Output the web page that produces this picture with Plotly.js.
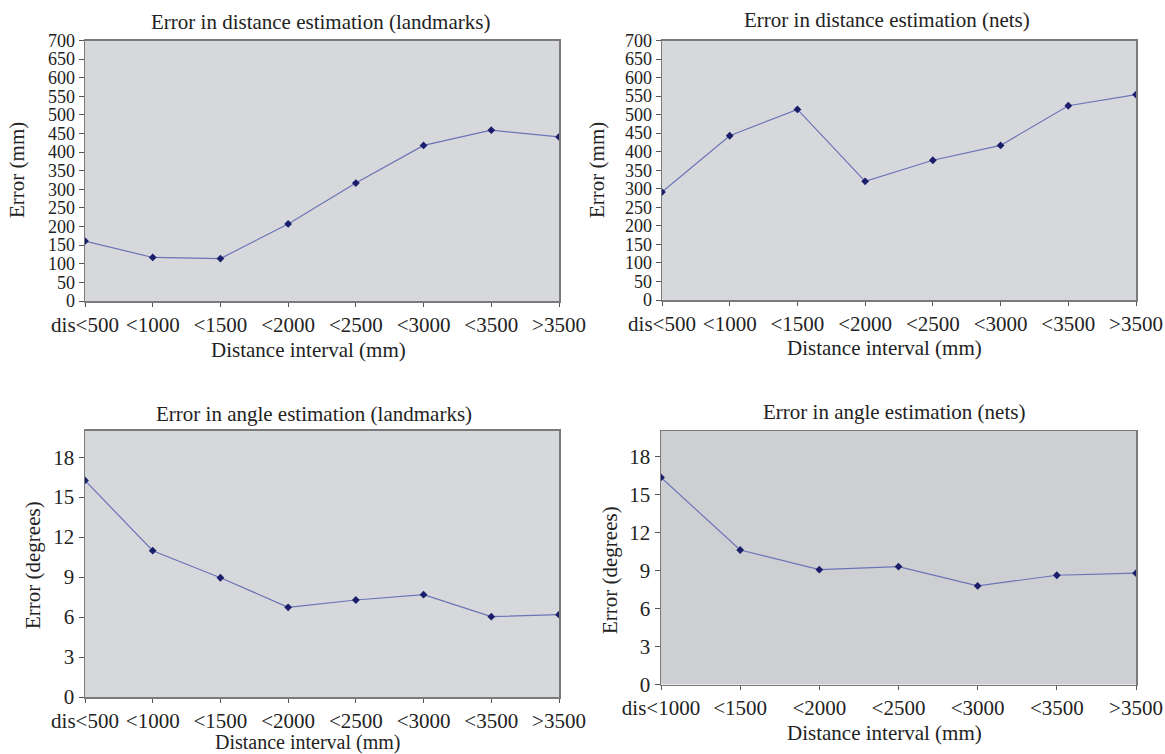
<!DOCTYPE html>
<html>
<head>
<meta charset="utf-8">
<script src="https://cdn.plot.ly/plotly-3.0.1.min.js"></script>
<style>html,body{margin:0;padding:0;background:#fff;}#chart{width:1165px;height:754px;}</style>
</head>
<body>
<div id="chart"></div>
<script>
// ---- data ----
const distCategories = ["dis<500", "<1000", "<1500", "<2000", "<2500", "<3000", "<3500", ">3500"];
const distLandmarks = [161, 117, 114, 207, 317, 418, 459, 441];
const distNets = [291, 443, 514, 320, 377, 417, 524, 554];
const angleLandmarkCategories = ["dis<500", "<1000", "<1500", "<2000", "<2500", "<3000", "<3500", ">3500"];
const angleLandmarks = [16.25, 10.98, 8.95, 6.73, 7.28, 7.68, 6.03, 6.18];
const angleNetCategories = ["dis<1000", "<1500", "<2000", "<2500", "<3000", "<3500", ">3500"];
const angleNets = [16.34, 10.61, 9.06, 9.30, 7.78, 8.62, 8.78];
const titles = ["Error in distance estimation (landmarks)", "Error in distance estimation (nets)",
                "Error in angle estimation (landmarks)", "Error in angle estimation (nets)"];
const xTitle = "Distance interval (mm)";
const yTitleDist = "Error (mm)";
const yTitleAngle = "Error (degrees)";

const W = 1165, H = 754;
const FONT = "Liberation Serif, Times New Roman, serif";
const lineColor = "#6b74b6";
const markerColor = "#1b1f6b";

function px(x){ return x / W; }
function py(y){ return 1 - y / H; }

function trace(cats, vals, xa, ya){
  return {
    x: cats, y: vals, xaxis: xa, yaxis: ya, type: "scatter", mode: "lines+markers",
    line: {color: lineColor, width: 1.2},
    marker: {symbol: "diamond", size: 6, color: markerColor},
    hoverinfo: "x+y", showlegend: false
  };
}

const data = [
  trace(distCategories, distLandmarks, "x", "y"),
  trace(distCategories, distNets, "x2", "y2"),
  trace(angleLandmarkCategories, angleLandmarks, "x3", "y3"),
  trace(angleNetCategories, angleNets, "x4", "y4")
];

function xAxis(dom, n, anchor){
  return {
    domain: dom, anchor: anchor, type: "category", range: [0, n - 1],
    showline: true, mirror: true, linecolor: "#7a7a7a", linewidth: 1.5,
    ticks: "outside", ticklen: 4, tickcolor: "#555", tickwidth: 1,
    showgrid: false, zeroline: false,
    tickfont: {family: FONT, size: 21, color: "#222"}, automargin: false
  };
}
function yAxis(dom, range, dtick, anchor, fs){
  return {
    domain: dom, anchor: anchor, range: range, dtick: dtick, tick0: 0,
    showline: true, mirror: true, linecolor: "#7a7a7a", linewidth: 1.5,
    ticks: "outside", ticklen: 5, tickcolor: "#555", tickwidth: 1,
    showgrid: false, zeroline: false,
    tickfont: {family: FONT, size: fs, color: "#222"}, automargin: false
  };
}

function ann(text, x, y, angle, opts){
  const a = {text: text, x: px(x), y: py(y), xref: "paper", yref: "paper",
          xanchor: "center", yanchor: "middle", showarrow: false,
          font: {family: FONT, size: 21, color: "#222"}, textangle: angle || 0};
  return Object.assign(a, opts || {});
}

const layout = {
  width: W, height: H,
  margin: {l: 0, r: 0, t: 0, b: 0},
  paper_bgcolor: "#ffffff",
  font: {family: FONT, color: "#222"},
  xaxis:  xAxis([px(85), px(559)], distCategories.length, "y"),
  yaxis:  yAxis([py(301), py(40.5)], [0, 700], 50, "x", 18),
  xaxis2: xAxis([px(662), px(1136)], distCategories.length, "y2"),
  yaxis2: yAxis([py(300), py(40.5)], [0, 700], 50, "x2", 18),
  xaxis3: xAxis([px(85), px(559)], angleLandmarkCategories.length, "y3"),
  yaxis3: yAxis([py(697), py(430.5)], [0, 20], 3, "x3", 21),
  xaxis4: xAxis([px(661), px(1136)], angleNetCategories.length, "y4"),
  yaxis4: yAxis([py(684.5), py(431)], [0, 20], 3, "x4", 21),
  shapes: [
    {type: "rect", xref: "paper", yref: "paper", x0: px(85), x1: px(559), y0: py(301), y1: py(40.5), fillcolor: "#d7d8dc", line: {width: 0}, layer: "below"},
    {type: "rect", xref: "paper", yref: "paper", x0: px(662), x1: px(1136), y0: py(300), y1: py(40.5), fillcolor: "#d7d8dc", line: {width: 0}, layer: "below"},
    {type: "rect", xref: "paper", yref: "paper", x0: px(85), x1: px(559), y0: py(697), y1: py(430.5), fillcolor: "#d7d8dc", line: {width: 0}, layer: "below"},
    {type: "rect", xref: "paper", yref: "paper", x0: px(661), x1: px(1136), y0: py(684.5), y1: py(431), fillcolor: "#cecfd3", line: {width: 0}, layer: "below"}
  ],
  annotations: [
    ann(titles[0], 320, 22),
    ann(titles[1], 887, 20),
    ann(titles[2], 314, 414),
    ann(titles[3], 894, 412),
    ann(xTitle, 308, 350),
    ann(xTitle, 884, 348),
    ann(xTitle, 308, 756, 0, {yanchor: "bottom", font: {family: FONT, size: 20, color: "#222"}}),
    ann(xTitle, 884, 733),
    ann(yTitleDist, 17, 170, -90),
    ann(yTitleDist, 597, 170, -90),
    ann(yTitleAngle, 33, 565, -90),
    ann(yTitleAngle, 610, 570, -90)
  ]
};

Plotly.newPlot("chart", data, layout, {displayModeBar: false, staticPlot: true});
</script>
</body>
</html>
